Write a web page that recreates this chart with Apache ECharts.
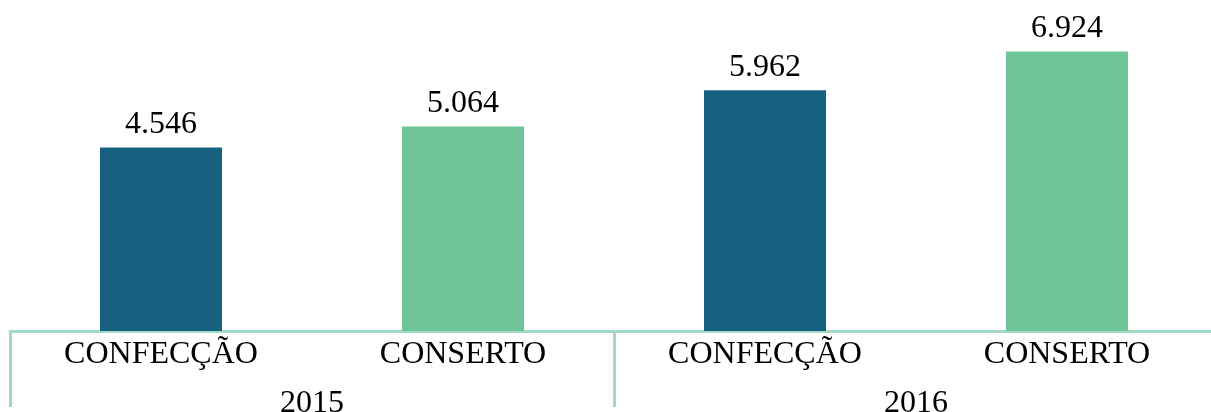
<!DOCTYPE html>
<html>
<head>
<meta charset="utf-8">
<script src="https://cdn.jsdelivr.net/npm/echarts@6/dist/echarts.min.js"></script>
<style>
  html, body { margin: 0; padding: 0; background: #fff; }
  #chart { width: 1211px; height: 412px; }
</style>
</head>
<body>
<div id="chart"></div>
<script>
// dados
const categories = ['CONFECÇÃO', 'CONSERTO', 'CONFECÇÃO', 'CONSERTO']
const years = ['2015', '2016']
const values = [4.546, 5.064, 5.962, 6.924]
const barColors = ['#166180', '#6cc497', '#166180', '#6cc497']

const axisColor = '#a4d9c4'
const font = '"Liberation Serif", "Times New Roman", serif'

const myChart = echarts.init(document.getElementById('chart'))
const option = {
  animation: false,
  grid: { left: 10, width: 1208, top: 0, bottom: 81, outerBoundsMode: 'none', containLabel: false },
  xAxis: [
    {
      type: 'category',
      data: categories,
      axisLine: { lineStyle: { color: axisColor, width: 3 } },
      axisTick: { show: false },
      axisLabel: { color: '#000', fontFamily: font, fontSize: 32, margin: 8 }
    },
    {
      type: 'category',
      data: years,
      position: 'bottom',
      axisLine: { show: false },
      axisTick: { show: true, length: 76, interval: 0, lineStyle: { color: axisColor, width: 3 } },
      axisLabel: { color: '#000', fontFamily: font, fontSize: 32, margin: 57 }
    }
  ],
  yAxis: {
    type: 'value',
    min: 0,
    max: 8.2,
    show: false,
    splitLine: { show: false }
  },
  series: [
    {
      type: 'bar',
      xAxisIndex: 0,
      barWidth: 122,
      data: values.map((v, i) => ({ value: v, itemStyle: { color: barColors[i] } })),
      label: {
        show: true,
        position: 'top',
        distance: 7,
        color: '#000',
        fontFamily: font,
        fontSize: 32,
        formatter: p => p.value.toFixed(3)
      }
    }
  ]
}
myChart.setOption(option)
</script>
</body>
</html>
